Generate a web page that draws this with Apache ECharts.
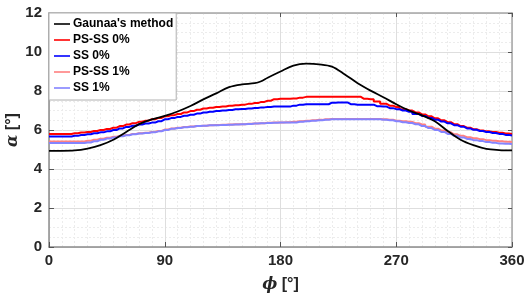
<!DOCTYPE html>
<html>
<head>
<meta charset="utf-8">
<script src="https://cdn.jsdelivr.net/npm/echarts@6/dist/echarts.min.js"></script>
<style>
html,body{margin:0;padding:0;background:#fff;}
#chart{width:526px;height:299px;}
</style>
</head>
<body>
<div id="chart"></div>
<script>
// ---- data ----
var seriesNames = ["Gaunaa's method", "PS-SS 0%", "SS 0%", "PS-SS 1%", "SS 1%"];
var xTicks = [0, 90, 180, 270, 360];
var yTicks = [0, 2, 4, 6, 8, 10, 12];

// Gaunaa's method (smooth curve)
var phiGaunaa = [0, 10, 20, 30, 40, 50, 60, 70, 80, 90, 100, 110, 120, 130, 140, 150, 160, 165, 170, 180, 190, 200, 210, 220, 230, 240, 250, 260, 270, 280, 290, 300, 310, 320, 330, 340, 350, 360];
var gaunaa = [4.93, 4.93, 4.95, 5.05, 5.22, 5.5, 5.9, 6.3, 6.55, 6.72, 6.95, 7.23, 7.57, 7.88, 8.2, 8.34, 8.4, 8.5, 8.68, 9.0, 9.3, 9.4, 9.37, 9.25, 8.85, 8.4, 8.02, 7.68, 7.32, 7.0, 6.75, 6.45, 5.95, 5.5, 5.22, 5.03, 4.97, 4.95];

// stepped series sampled every 5 degrees
var phiStep = [0,5,10,15,20,25,30,35,40,45,50,55,60,65,70,75,80,85,90,95,100,105,110,115,120,125,130,135,140,145,150,155,160,165,170,175,180,185,190,195,200,205,210,215,220,225,230,235,240,245,250,255,260,265,270,275,280,285,290,295,300,305,310,315,320,325,330,335,340,345,350,355,360];
var psss0 = [5.79,5.79,5.79,5.79,5.83,5.87,5.9,5.95,6.0,6.05,6.12,6.2,6.28,6.35,6.42,6.48,6.55,6.62,6.7,6.76,6.82,6.9,6.97,7.04,7.1,7.14,7.18,7.21,7.24,7.27,7.3,7.34,7.38,7.44,7.5,7.58,7.6,7.6,7.62,7.66,7.7,7.7,7.7,7.7,7.7,7.7,7.7,7.7,7.7,7.6,7.58,7.46,7.34,7.25,7.18,7.07,7.0,6.9,6.8,6.7,6.6,6.5,6.4,6.3,6.2,6.12,6.04,5.98,5.93,5.9,5.86,5.82,5.8];
var ss0 = [5.67,5.67,5.67,5.67,5.7,5.74,5.78,5.83,5.88,5.93,6.0,6.08,6.16,6.22,6.28,6.33,6.38,6.45,6.55,6.61,6.67,6.73,6.78,6.84,6.9,6.94,6.97,7.0,7.03,7.06,7.08,7.1,7.13,7.16,7.18,7.2,7.2,7.2,7.25,7.3,7.32,7.32,7.32,7.32,7.4,7.41,7.41,7.32,7.3,7.3,7.3,7.22,7.2,7.12,7.07,7.0,6.93,6.82,6.72,6.62,6.53,6.43,6.34,6.25,6.17,6.08,6.01,5.95,5.9,5.85,5.8,5.75,5.72];
var psss1 = [5.41,5.41,5.41,5.41,5.41,5.41,5.45,5.5,5.55,5.6,5.65,5.7,5.75,5.8,5.83,5.86,5.9,5.95,6.02,6.08,6.12,6.15,6.18,6.21,6.22,6.24,6.26,6.27,6.28,6.3,6.3,6.32,6.33,6.35,6.37,6.38,6.38,6.4,6.42,6.45,6.48,6.5,6.52,6.55,6.56,6.56,6.56,6.56,6.56,6.56,6.56,6.56,6.55,6.53,6.48,6.45,6.42,6.35,6.28,6.17,6.07,5.98,5.88,5.78,5.7,5.63,5.58,5.53,5.48,5.45,5.42,5.4,5.38];
var ss1 = [5.33,5.33,5.33,5.33,5.33,5.33,5.36,5.42,5.5,5.56,5.62,5.68,5.73,5.78,5.82,5.85,5.88,5.93,6.0,6.06,6.1,6.14,6.17,6.2,6.22,6.24,6.25,6.26,6.27,6.28,6.3,6.31,6.33,6.34,6.36,6.37,6.38,6.38,6.38,6.42,6.45,6.48,6.5,6.53,6.55,6.55,6.55,6.55,6.55,6.55,6.55,6.55,6.53,6.5,6.45,6.4,6.36,6.29,6.2,6.1,6.0,5.9,5.8,5.7,5.62,5.54,5.48,5.43,5.38,5.34,5.31,5.29,5.28];

function pairs(xs, ys){ return xs.map(function(x,i){ return [x, ys[i]]; }); }

var chart = echarts.init(document.getElementById('chart'), null, {renderer:'canvas'});
var labelFont = {fontFamily:'Liberation Sans, Arial, sans-serif', fontWeight:'bold', fontSize:15, color:'#262626'};
var gridLineMajor = {show:true, lineStyle:{color:'#dedede', width:1}};
var gridLineMinor = {show:true, lineStyle:{color:'#ececec', width:1, type:[2,2]}};

var option = {
  animation:false,
  backgroundColor:'#ffffff',
  grid:{left:49, right:14, top:13, bottom:52, containLabel:false, outerBoundsMode:'none'},
  xAxis:[{
    type:'value', min:0, max:360, interval:90,
    axisLine:{show:true, onZero:false, lineStyle:{color:'#8c8c8c', width:1.5}},
    axisTick:{show:true, inside:true, length:5, lineStyle:{color:'#555'}},
    axisLabel:Object.assign({margin:6, formatter:function(v){return xTicks.indexOf(v)>=0? String(v):'';}}, labelFont),
    splitLine:gridLineMajor,
    minorTick:{show:false, splitNumber:9},
    minorSplitLine:gridLineMinor,
    name:'{i|\u03d5} [°]', nameLocation:'middle', nameGap:30, nameMoveOverlap:false,
    nameTextStyle:{fontFamily:'Liberation Sans, Arial, sans-serif', fontWeight:'bold', fontSize:16, color:'#262626',
      rich:{i:{fontFamily:'DejaVu Serif, serif', fontStyle:'italic', fontSize:16, color:'#262626'}}}
  },{
    type:'value', min:0, max:360, interval:90, position:'top',
    axisLine:{show:true, onZero:false, lineStyle:{color:'#a6a6a6', width:1.5}},
    axisTick:{show:true, inside:true, length:4, lineStyle:{color:'#555'}},
    axisLabel:{show:false}, splitLine:{show:false}
  }],
  yAxis:[{
    type:'value', min:0, max:12, interval:2,
    axisLine:{show:true, onZero:false, lineStyle:{color:'#8c8c8c', width:1.5}},
    axisTick:{show:true, inside:true, length:5, lineStyle:{color:'#555'}},
    axisLabel:Object.assign({margin:7, formatter:function(v){return yTicks.indexOf(v)>=0? String(v):'';}}, labelFont),
    splitLine:gridLineMajor,
    minorTick:{show:false, splitNumber:4},
    minorSplitLine:gridLineMinor,
    name:'{i|\u03b1} [°]', nameLocation:'middle', nameGap:28, nameMoveOverlap:false,
    nameTextStyle:{fontFamily:'Liberation Sans, Arial, sans-serif', fontWeight:'bold', fontSize:16, color:'#262626',
      rich:{i:{fontFamily:'DejaVu Serif, serif', fontStyle:'italic', fontSize:16, color:'#262626'}}}
  },{
    type:'value', min:0, max:12, interval:2, position:'right',
    axisLine:{show:true, onZero:false, lineStyle:{color:'#a6a6a6', width:1.5}},
    axisTick:{show:true, inside:true, length:4, lineStyle:{color:'#555'}},
    axisLabel:{show:false}, splitLine:{show:false}
  }],
  legend:{
    show:true, orient:'vertical', left:49, top:13,
    data:seriesNames,
    backgroundColor:'#ffffff', borderColor:'#b0b0b0', borderWidth:1, borderRadius:0,
    padding:[5,3,6,5], itemGap:4,
    itemWidth:16, itemHeight:12,
    icon:'path://M0,5.2 L16,5.2 L16,6.8 L0,6.8 Z',
    textStyle:{fontFamily:'Liberation Sans, Arial, sans-serif', fontWeight:'bold', fontSize:12, color:'#000', padding:[0,0,0,-2]}
  },
  series:[
    {name:seriesNames[0], type:'line', data:pairs(phiGaunaa, gaunaa), smooth:0.35, symbol:'none', lineStyle:{color:'#000000', width:1.8}, itemStyle:{color:'#000000'}, z:5},
    {name:seriesNames[1], type:'line', data:pairs(phiStep, psss0), step:'middle', symbol:'none', lineStyle:{color:'#ff0000', width:2}, itemStyle:{color:'#ff0000'}},
    {name:seriesNames[2], type:'line', data:pairs(phiStep, ss0), step:'middle', symbol:'none', lineStyle:{color:'#0000ff', width:2}, itemStyle:{color:'#0000ff'}},
    {name:seriesNames[3], type:'line', data:pairs(phiStep, psss1), step:'middle', symbol:'none', lineStyle:{color:'#ff8080', width:2}, itemStyle:{color:'#ff8080'}},
    {name:seriesNames[4], type:'line', data:pairs(phiStep, ss1), step:'middle', symbol:'none', lineStyle:{color:'#8484ff', width:2}, itemStyle:{color:'#8484ff'}}
  ]
};
chart.setOption(option);
</script>
</body>
</html>
